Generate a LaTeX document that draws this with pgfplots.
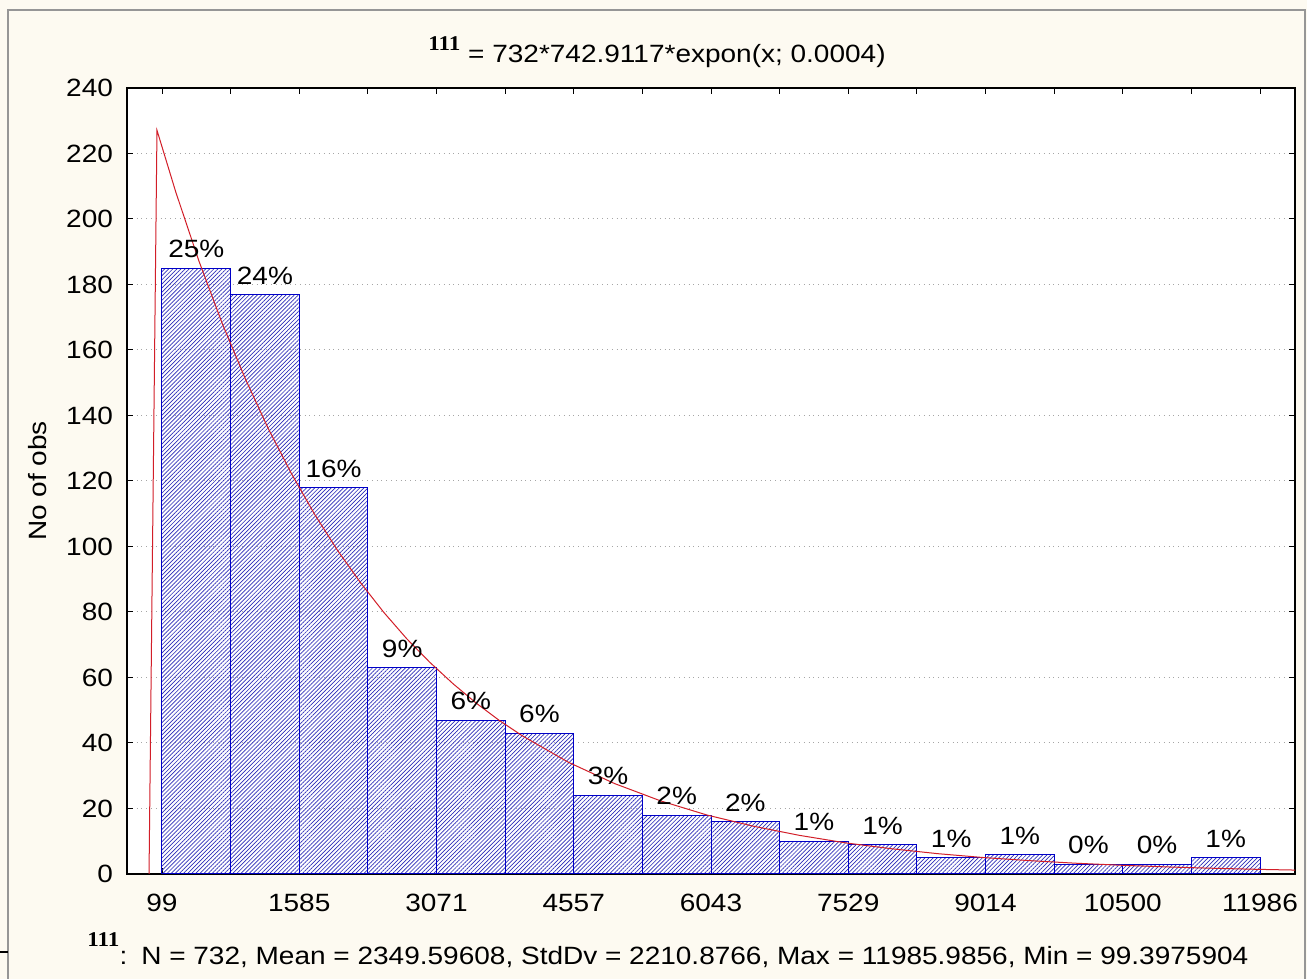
\documentclass[border=0pt]{standalone}
\usepackage{fontspec}
\setmainfont{Liberation Sans}[FakeStretch=1.12]
\newfontfamily\serifnum{Liberation Serif}[FakeStretch=1.1]
\usepackage{pgfplots}
\pgfplotsset{compat=1.18}
\usetikzlibrary{patterns.meta}
\definecolor{bgcream}{RGB}{253,250,241}
\definecolor{barblue}{RGB}{0,0,200}
\definecolor{hatchblue}{RGB}{45,45,185}
\definecolor{curvered}{RGB}{210,30,40}
\definecolor{framegray}{RGB}{150,150,150}
\newcommand{\bigfont}{\fontsize{12.5}{15}\selectfont}
\begin{document}
\begin{tikzpicture}[font=\bigfont]
\useasboundingbox (-63.5pt,-52.5pt) rectangle (590pt,437pt);
\fill[bgcream] (-63.5pt,-52.5pt) rectangle (590pt,437pt);
\draw[framegray, line width=0.8pt] (-59.5pt,-60pt) -- (-59.5pt,432pt) -- (589pt,432pt) -- (589pt,-60pt);
\draw[black, line width=0.6pt] (-63.5pt,-39pt) -- (-59.5pt,-39pt);
\begin{axis}[
  at={(0pt,0pt)}, anchor=south west,
  scale only axis, width=584pt, height=393pt,
  xmin=-279.5, xmax=12365, ymin=0, ymax=240,
  axis background/.style={fill=white},
  axis line style={black, line width=0.6pt},
  tick align=inside, major tick length=3pt,
  tick style={black, line width=0.5pt},
  xtick pos=both, ytick pos=both,
  xticklabel pos=left, yticklabel pos=left,
  scaled x ticks=false, scaled y ticks=false,
  xtick={99.40,842.31,1585.22,2328.13,3071.04,3813.96,4556.87,5299.78,6042.69,6785.60,7528.51,8271.43,9014.34,9757.25,10500.16,11243.07,11985.99},
  xticklabels={99,,1585,,3071,,4557,,6043,,7529,,9014,,10500,,11986},
  ytick={0,20,...,240},
  tick label style={font=\bigfont},
  label style={font=\bigfont},
  xticklabel style={anchor=north, text height=9pt, yshift=-6pt},
  yticklabel style={xshift=-3.5pt},
  ymajorgrids, grid style={gray!70, dotted, line width=0.5pt},
  ylabel={No of obs},
  ylabel style={at={(axis description cs:-0.077,0.5)}, anchor=center},
  /pgf/number format/assume math mode=true,
]
\addplot[ybar, bar width=742.9117, bar shift=0pt, draw=barblue, line width=0.5pt,
  pattern={Lines[angle=45,distance=1.45pt,line width=0.34pt]}, pattern color=hatchblue,
  point meta=explicit symbolic, nodes near coords,
  every node near coord/.append style={text=black, font=\bigfont, yshift=1.5pt}]
coordinates {
(470.85,185) [25\%]
(1213.77,177) [24\%]
(1956.68,118) [16\%]
(2699.59,63) [9\%]
(3442.50,47) [6\%]
(4185.41,43) [6\%]
(4928.32,24) [3\%]
(5671.24,18) [2\%]
(6414.15,16) [2\%]
(7157.06,10) [1\%]
(7899.97,9) [1\%]
(8642.88,5) [1\%]
(9385.79,6) [1\%]
(10128.71,3) [0\%]
(10871.62,3) [0\%]
(11614.53,5) [1\%]
};
\addplot[curvered, line width=0.5pt, mark=none] coordinates {
(-41,0) (45,227.1) (250,208.1) (500,187.1) (750,168.2) (1000,151.3)
(1250,136.0) (1500,122.3) (1750,109.9) (2000,98.8) (2250,88.9)
(2500,79.9) (2750,71.8) (3000,64.6) (3250,58.1) (3500,52.2)
(3750,46.9) (4000,42.2) (4500,34.1) (5000,27.6) (5500,22.3)
(6000,18.0) (6500,14.6) (7000,11.8) (7500,9.5) (8000,7.7)
(8500,6.2) (9000,5.0) (9500,4.06) (10000,3.28) (10500,2.65)
(11000,2.14) (11500,1.73) (12000,1.40) (12365,1.20)
};
\end{axis}
\node[anchor=base] at (265pt,405.5pt) {\raisebox{6pt}{\serifnum\bfseries\fontsize{10.5}{12}\selectfont 111} = 732*742.9117*expon(x; 0.0004)};
\node[anchor=base west, inner sep=0pt] at (-20pt,-45.5pt) {\raisebox{9pt}{\serifnum\bfseries\fontsize{10.5}{12}\selectfont 111}:\hspace{7pt}N = 732, Mean = 2349.59608, StdDv = 2210.8766, Max = 11985.9856, Min = 99.3975904};
\end{tikzpicture}
\end{document}
